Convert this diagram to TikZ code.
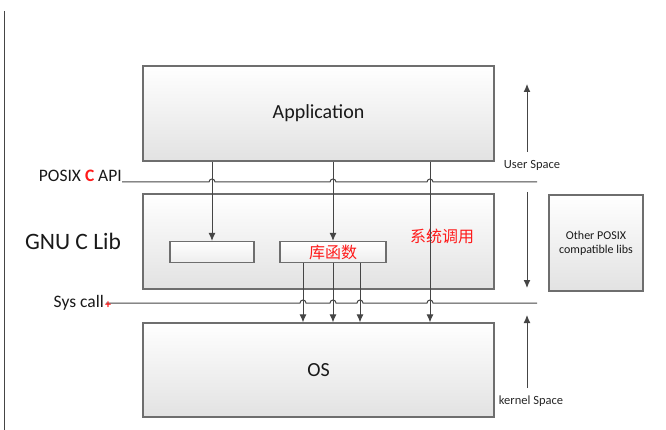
\documentclass[tikz,border=0pt]{standalone}
\usepackage{fontspec}
\setmainfont{Carlito}
\newfontfamily\cjk{Noto Sans CJK SC}
\usetikzlibrary{positioning, arrows.meta}
\definecolor{boxline}{HTML}{6E6E6E}
\definecolor{arrowline}{HTML}{454545}
\definecolor{boxshade}{HTML}{E2E2E2}
\definecolor{cnred}{HTML}{FF1A1A}

\begin{document}
\begin{tikzpicture}[x=1pt, y=-1pt,
                >={Latex[length=8pt,width=7pt]},
                every edge/.style={draw, arrowline, line width=1pt},
                hline/.style={draw, arrowline, line width=1pt},
                layer/.style={draw=boxline, line width=1.2pt, top color=white, bottom color=boxshade, minimum width=351pt, minimum height=95pt, text=black!90, font=\fontsize{20}{23}\selectfont},
                func/.style={draw=boxline, line width=1.2pt, top color=white, bottom color=boxshade!60, minimum height=21pt, inner sep=0pt},
                side/.style={text=black!85, font=\fontsize{12.5}{14}\selectfont},
                cnlabel/.style={text=cnred, font=\cjk\fontsize{16}{18}\selectfont}]
    \useasboundingbox (0,0) rectangle (666,430);

    %%% NODES
    \node [layer] (app) at (318.5,113.5) {Application};
    \node [layer] (lib) at (318.5,241.5) {};
    \node [layer, minimum height=94pt] (os) at (318.5,370) {OS};
    \node [func, minimum width=84pt] (fnA) at (212,252) {};
    \node [func, minimum width=106pt, cnlabel] (fnB) at (333,252) {库函数};
    \node [layer, minimum width=94pt, minimum height=96pt, align=center, font=\fontsize{12}{14}\selectfont] (other) at (596,243) {Other POSIX\\compatible libs};
    \node [cnlabel] (call) at (442,236) {系统调用};

    \node [text=black!90, font=\fontsize{23.5}{26}\selectfont] (gnu) at (73,241) {GNU C Lib};
    \node [anchor=base east, inner sep=0pt, text=black!90, font=\fontsize{17.5}{19}\selectfont] (posix) at (122,182) {POSIX {\bfseries\color{cnred}C} API};
    \node [anchor=east, inner sep=0pt, text=black!90, font=\fontsize{17.5}{20}\selectfont] (sys) at (104,303) {Sys call};

    \node [side] (user) at (532,165) {User Space};
    \node [side] (kernel) at (531,401) {kernel Space};
    \coordinate (usTop) at (527,84);
    \coordinate (usBot) at (527,152);
    \coordinate (libTop) at (527,192);
    \coordinate (libBot) at (527,288);
    \coordinate (krTop) at (527,315);
    \coordinate (krBot) at (527,388);
    \coordinate (apiEnd) at (537,182);
    \coordinate (sysEnd) at (537,303);
    \coordinate (edgeTop) at (4.5,11);
    \coordinate (edgeBot) at (4.5,430);

    %%% CONNECTIONS
    \draw [hline] (edgeTop) -- (edgeBot);
    \draw [hline] (posix.base east) foreach \x in {212,333,430} { -- ({\x-3},182) arc[start angle=180, end angle=0, radius=3pt] } -- (apiEnd);
    \draw [hline] ([xshift=2pt]sys.east) foreach \x in {303,333,360,430} { -- ({\x-3},303) arc[start angle=180, end angle=0, radius=3pt] } -- (sysEnd);
    \node [right=1pt of sys, inner sep=0pt, yshift=-2pt, text=cnred, font=\bfseries\fontsize{12}{12}\selectfont] (plus) {+};

    \path (fnA |- app.south) edge [->] (fnA.north);
    \path (fnB |- app.south) edge [->] (fnB.north);
    \path ([xshift=111.5pt]app.south) edge [->] ([xshift=111.5pt]os.north);
    \foreach \dx in {-30,0,27}
        \path ([xshift=\dx pt]fnB.south) edge [->] ([xshift=\dx pt]fnB.south |- os.north);

    \path (usBot) edge [->] (usTop);
    \path (libTop) edge [->] (libBot);
    \path (krBot) edge [->] (krTop);

\end{tikzpicture}
\end{document}
